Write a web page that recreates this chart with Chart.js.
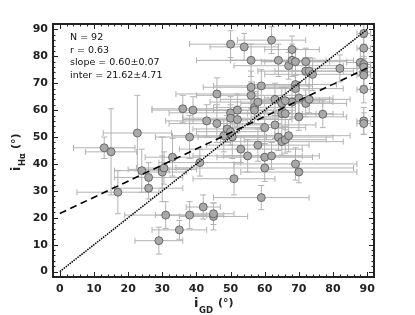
<!DOCTYPE html>
<html>
<head>
<meta charset="utf-8">
<script src="https://cdn.jsdelivr.net/npm/chart.js@4"></script>
<style>
  html, body { margin: 0; padding: 0; background: #fff; }
  #wrap { width: 415px; height: 315px; position: relative; }
</style>
</head>
<body>
<div id="wrap"><canvas id="c"></canvas></div>
<script>
// i_GD vs i_Halpha
var giX = [13, 15, 17, 22.7, 24, 26, 26, 29, 30, 30, 31, 33, 35, 36, 38, 38, 39, 41, 42, 43,
  45, 45, 46, 46, 48, 49, 50, 50, 50, 50.5, 51, 52, 52, 53, 54, 55, 56, 56, 56, 57,
  58, 58, 59, 59, 60, 60, 60, 62, 62, 63, 63, 64, 64, 65, 65, 65, 66, 66, 67, 67,
  68, 68, 68, 69, 69, 69, 69, 70, 70, 70, 72, 72, 72, 73, 73, 74, 77, 82, 88, 89,
  89, 89, 89, 89, 89, 89, 89, 50, 57, 66, 30.5, 89];
var haY = [46, 44.5, 29.5, 51.5, 37.5, 35, 31, 11.5, 38, 37, 21, 42.5, 15.5, 60.5, 21, 50, 60, 40.5, 24, 56,
  20.5, 21.5, 66, 55, 50.5, 53, 84.5, 59, 57, 50, 34.5, 60, 56.5, 45.5, 83.5, 43, 78.5, 68.5, 65.5, 61,
  63, 47, 69, 27.5, 53.5, 42.5, 38.5, 86, 43, 64, 54.5, 78.5, 50, 62.5, 58.7, 48.3, 58.7, 49, 76.5, 50.5,
  82.5, 78.5, 63, 78, 69.5, 68, 40, 64.5, 57.5, 37, 78, 74.5, 62.5, 74.5, 64, 73.3, 58.5, 75.5, 77.7, 88.5,
  83, 77, 74.2, 73, 67.7, 56, 55, 52, 60, 63.5, 38.5, 76];
var giErr = [9, 7.5, 12, 10, 8, 10, 10, 7, 10, 7, 12, 8, 8, 9, 10, 10, 12, 12, 5, 12,
  10, 6, 12, 14, 15, 10, 12, 18, 14, 10, 12, 14, 16, 18, 10, 16, 16, 14, 16, 12,
  14, 15, 14, 14, 12, 14, 26, 10, 14, 16, 12, 14, 16, 12, 10, 18, 14, 12, 16, 18,
  8, 18, 12, 10, 12, 14, 18, 10, 14, 17, 12, 14, 12, 10, 12, 14, 6, 8, 4, 2,
  2, 2, 2, 2, 2, 2, 2, 10, 12, 10, 8, 2];
var haErr = [4, 16, 8, 14, 8, 5.5, 4, 5, 12, 6, 5, 7, 3.5, 5, 5, 8, 5, 5, 4.5, 6,
  5, 4, 6, 7, 6, 5, 5, 6, 5, 8, 6, 6, 5, 5, 5, 6, 6, 6, 5, 6,
  5, 6, 6, 4.5, 6, 5, 5, 5, 5, 6, 5, 6, 5, 6, 5, 5, 6, 5, 5, 6,
  5, 6, 6, 5, 5, 5, 6, 6, 5, 4, 5, 5, 5, 5, 5, 6, 5, 5, 5, 4,
  4, 5, 5, 4, 5, 5, 4, 5, 5, 5, 6, 4];

var xTicks = [0, 10, 20, 30, 40, 50, 60, 70, 80, 90];
var yTicks = [0, 10, 20, 30, 40, 50, 60, 70, 80, 90];

// one-to-one line and the fitted line (inter = 21.62, slope = 0.60)
var unityX = [0, 90], unityY = [0, 90];
var fitX = [0, 90], fitY = [21.62, 75.62];

var statLines = ["N = 92", "r = 0.63", "slope = 0.60\u00b10.07", "inter = 21.62\u00b14.71"];

function pairs(xs, ys) {
  var out = [];
  for (var i = 0; i < xs.length; i++) out.push({ x: xs[i], y: ys[i] });
  return out;
}

var errorBars = {
  id: "errorBars",
  beforeDatasetsDraw: function (chart) {
    var ctx = chart.ctx, sx = chart.scales.x, sy = chart.scales.y, a = chart.chartArea;
    ctx.save();
    ctx.beginPath();
    ctx.rect(a.left, a.top, a.right - a.left, a.bottom - a.top);
    ctx.clip();
    ctx.strokeStyle = "#b3b3b3";
    ctx.lineWidth = 1;
    var cap = 3;
    for (var i = 0; i < giX.length; i++) {
      var px = sx.getPixelForValue(giX[i]), py = sy.getPixelForValue(haY[i]);
      var x0 = sx.getPixelForValue(giX[i] - giErr[i]), x1 = sx.getPixelForValue(giX[i] + giErr[i]);
      var y0 = sy.getPixelForValue(haY[i] - haErr[i]), y1 = sy.getPixelForValue(haY[i] + haErr[i]);
      ctx.beginPath();
      ctx.moveTo(x0, py); ctx.lineTo(x1, py);
      ctx.moveTo(x0, py - cap); ctx.lineTo(x0, py + cap);
      ctx.moveTo(x1, py - cap); ctx.lineTo(x1, py + cap);
      ctx.moveTo(px, y0); ctx.lineTo(px, y1);
      ctx.moveTo(px - cap, y0); ctx.lineTo(px + cap, y0);
      ctx.moveTo(px - cap, y1); ctx.lineTo(px + cap, y1);
      ctx.stroke();
    }
    ctx.restore();
  }
};

// frame with inward ticks on every side, stats text and axis titles
var frame = {
  id: "frame",
  afterDraw: function (chart) {
    var ctx = chart.ctx, sx = chart.scales.x, sy = chart.scales.y, a = chart.chartArea;
    ctx.save();
    ctx.strokeStyle = "#222";
    ctx.lineWidth = 1;
    ctx.beginPath();
    for (var v = -2; v <= 92; v += 2) {
      var len = v % 10 === 0 ? 5 : 2.5;
      var px = Math.round(sx.getPixelForValue(v)) + 0.5;
      var py = Math.round(sy.getPixelForValue(v)) + 0.5;
      ctx.moveTo(px, a.bottom); ctx.lineTo(px, a.bottom - len);
      ctx.moveTo(px, a.top); ctx.lineTo(px, a.top + len);
      ctx.moveTo(a.left, py); ctx.lineTo(a.left + len, py);
      ctx.moveTo(a.right, py); ctx.lineTo(a.right - len, py);
    }
    ctx.stroke();
    ctx.lineWidth = 2;
    ctx.strokeRect(a.left, a.top, a.right - a.left, a.bottom - a.top);

    ctx.fillStyle = "#111";
    ctx.font = "9.5px 'DejaVu Sans'";
    ctx.textBaseline = "alphabetic";
    ctx.textAlign = "left";
    for (var i = 0; i < statLines.length; i++) {
      ctx.fillText(statLines[i], 70, 40 + i * 12.7);
    }

    // x title: i_GD (°)
    ctx.fillStyle = "#222";
    ctx.font = "bold 13px 'DejaVu Sans'";
    ctx.fillText("i", 194, 307);
    ctx.font = "bold 8.5px 'DejaVu Sans'";
    ctx.fillText("GD", 199, 313);
    ctx.font = "bold 11px 'DejaVu Sans'";
    ctx.fillText("(\u00b0)", 218, 306);

    // y title: i_Halpha (°)
    ctx.save();
    ctx.translate(20, 171);
    ctx.rotate(-Math.PI / 2);
    ctx.font = "bold 13px 'DejaVu Sans'";
    ctx.fillText("i", 0, 0);
    ctx.font = "bold 8.5px 'DejaVu Sans'";
    ctx.fillText("H\u03b1", 5, 5);
    ctx.font = "bold 11px 'DejaVu Sans'";
    ctx.fillText("(\u00b0)", 22, -1);
    ctx.restore();
    ctx.restore();
  }
};

var tickFont = { family: "'DejaVu Sans'", size: 11, weight: "bold" };

new Chart(document.getElementById("c"), {
  type: "scatter",
  data: {
    datasets: [
      {
        data: pairs(unityX, unityY),
        showLine: true,
        borderColor: "#000",
        borderWidth: 1.5,
        borderDash: [1.5, 1],
        pointRadius: 0,
        fill: false
      },
      {
        data: pairs(fitX, fitY),
        showLine: true,
        borderColor: "#000",
        borderWidth: 1.6,
        borderDash: [7, 4.5],
        pointRadius: 0,
        fill: false
      },
      {
        data: pairs(giX, haY),
        pointRadius: 4,
        pointBackgroundColor: "#a9a9a9",
        pointBorderColor: "#555",
        pointBorderWidth: 0.8
      }
    ]
  },
  options: {
    responsive: true,
    maintainAspectRatio: false,
    animation: false,
    layout: { padding: { top: 24, right: 41, left: 0, bottom: 0 } },
    plugins: {
      legend: { display: false },
      tooltip: { enabled: false }
    },
    scales: {
      x: {
        type: "linear",
        min: -2,
        max: 92,
        afterBuildTicks: function (s) { s.ticks = xTicks.map(function (v) { return { value: v }; }); },
        afterFit: function (s) { s.height = 38; },
        grid: { display: false, drawTicks: false },
        border: { display: false },
        ticks: { font: tickFont, color: "#222", padding: 6, maxRotation: 0, autoSkip: false }
      },
      y: {
        type: "linear",
        min: -2,
        max: 92,
        afterBuildTicks: function (s) { s.ticks = yTicks.map(function (v) { return { value: v }; }); },
        afterFit: function (s) { s.width = 53; },
        grid: { display: false, drawTicks: false },
        border: { display: false },
        ticks: { font: tickFont, color: "#222", padding: 5, autoSkip: false }
      }
    }
  },
  plugins: [errorBars, frame]
});
</script>
</body>
</html>
